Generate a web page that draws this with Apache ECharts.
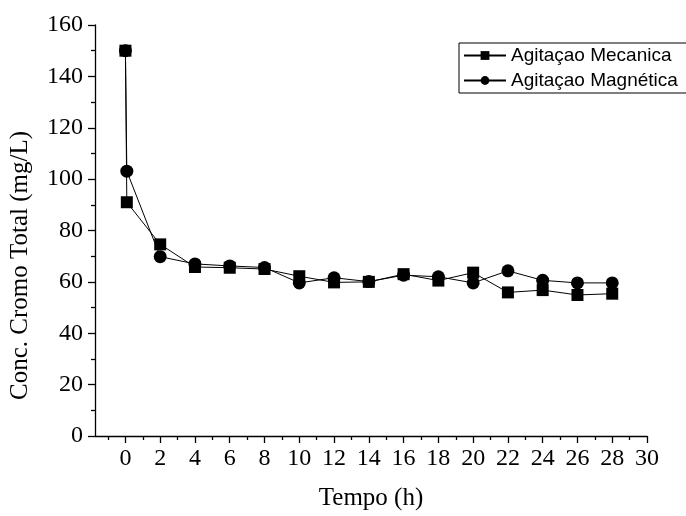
<!DOCTYPE html>
<html>
<head>
<meta charset="utf-8">
<script src="https://cdn.jsdelivr.net/npm/echarts@6/dist/echarts.min.js"></script>
<style>html,body{margin:0;padding:0;background:#fff;}#c{width:686px;height:516px;}</style>
</head>
<body>
<div id="c"></div>
<script>
const timeH = [0, 0.08, 2, 4, 6, 8, 10, 12, 14, 16, 18, 20, 22, 24, 26, 28];
const mecanica = [150, 91.0, 74.6, 65.8, 65.5, 65.0, 62.2, 59.8, 60.0, 63.0, 60.5, 63.6, 55.9, 56.8, 54.9, 55.4];
const magnetica = [150, 103.1, 69.8, 67.0, 66.2, 65.6, 59.6, 61.6, 60.1, 62.6, 62.0, 59.6, 64.3, 60.6, 59.6, 59.6];
const xMajorTicks = [0, 2, 4, 6, 8, 10, 12, 14, 16, 18, 20, 22, 24, 26, 28, 30];
const xMinorTicks = [-1, 1, 3, 5, 7, 9, 11, 13, 15, 17, 19, 21, 23, 25, 27, 29];
const seriesNames = ['Agitaçao Mecanica', 'Agitaçao Magnética'];

const serif = "'Liberation Serif', 'Times New Roman', serif";
const sans = "'Liberation Sans', Arial, sans-serif";

const chart = echarts.init(document.getElementById('c'), null, {renderer: 'canvas'});
const pairs = (ys) => timeH.map((t, i) => [t, ys[i]]);

chart.setOption({
  backgroundColor: '#fff',
  animation: false,
  grid: {left: 95, right: 39, top: 25, bottom: 80},
  legend: {
    orient: 'vertical',
    left: 459,
    top: 43,
    width: 224,
    padding: [3, 10, 3, 4],
    borderColor: '#000',
    borderWidth: 1,
    itemWidth: 42,
    itemHeight: 11,
    itemGap: 6,
    textStyle: {fontFamily: sans, fontSize: 19, color: '#000'},
    data: seriesNames
  },
  xAxis: [{
    type: 'value',
    min: -1.75,
    max: 30,
    name: 'Tempo (h)',
    nameLocation: 'middle',
    nameGap: 50,
    nameTextStyle: {fontFamily: serif, fontSize: 25, color: '#000'},
    axisLine: {show: true, onZero: false, lineStyle: {color: '#000', width: 1.3}},
    axisTick: {show: true, inside: false, length: 7, customValues: xMajorTicks, lineStyle: {color: '#000', width: 1.3}},
    axisLabel: {customValues: xMajorTicks, margin: 11, fontFamily: serif, fontSize: 24, color: '#000'},
    splitLine: {show: false}
  }, {
    type: 'value',
    position: 'bottom',
    min: -1.75,
    max: 30,
    axisLine: {show: false, onZero: false},
    axisTick: {show: true, inside: false, length: 4, customValues: xMinorTicks, lineStyle: {color: '#000', width: 1.3}},
    axisLabel: {show: false},
    splitLine: {show: false}
  }],
  yAxis: {
    type: 'value',
    min: 0,
    max: 160,
    interval: 20,
    name: 'Conc. Cromo Total (mg/L)',
    nameLocation: 'middle',
    nameGap: 62,
    nameTextStyle: {fontFamily: serif, fontSize: 25, color: '#000', padding: [0, 70, 0, 0]},
    axisLine: {show: true, onZero: false, lineStyle: {color: '#000', width: 1.3}},
    axisTick: {show: true, inside: false, length: 7, lineStyle: {color: '#000', width: 1.3}},
    minorTick: {show: true, splitNumber: 2, length: 4, lineStyle: {color: '#000', width: 1.3}},
    axisLabel: {margin: 12, fontFamily: serif, fontSize: 24, color: '#000'},
    splitLine: {show: false}
  },
  series: [{
    name: seriesNames[0],
    type: 'line',
    xAxisIndex: 0,
    data: pairs(mecanica),
    symbol: 'rect',
    symbolSize: 12,
    itemStyle: {color: '#000'},
    lineStyle: {color: '#000', width: 1}
  }, {
    name: seriesNames[1],
    type: 'line',
    xAxisIndex: 0,
    data: pairs(magnetica),
    symbol: 'circle',
    symbolSize: 13,
    itemStyle: {color: '#000'},
    lineStyle: {color: '#000', width: 1}
  }]
});
</script>
</body>
</html>
